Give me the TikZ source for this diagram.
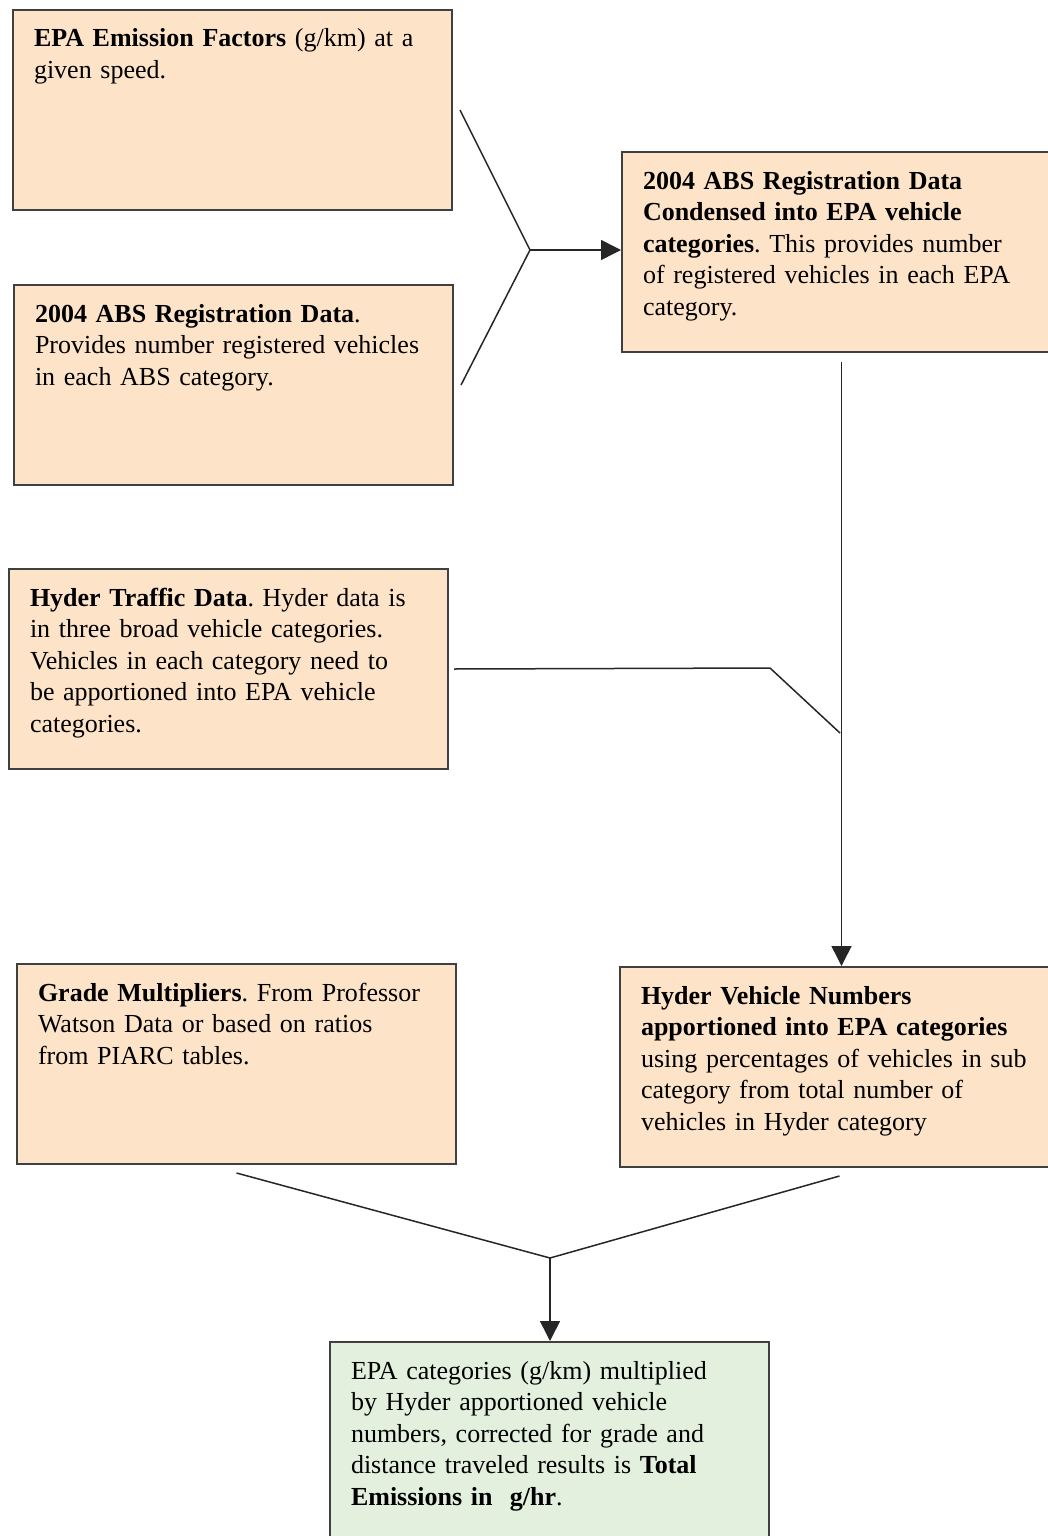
\documentclass[tikz,border=0pt]{standalone}
\usepackage{fontspec}
\setmainfont{Liberation Serif}
\usepackage{tikz}
\usetikzlibrary{arrows.meta,positioning}
\definecolor{peach}{RGB}{253,228,201}
\definecolor{palegreen}{RGB}{227,240,221}
\definecolor{boxline}{RGB}{64,64,64}
\frenchspacing

\begin{document}
\begin{tikzpicture}
	[x=0.5pt, y=-0.5pt, font=\fontsize{13}{15.8}\selectfont,
	databox/.style	= {rectangle, draw=boxline, line width=1pt, fill=peach, anchor=north west, align=left,
				inner xsep=10.5pt, inner ysep=6pt, text width=198.5pt, text height=12.5pt, text depth=75.5pt},
	resultbox/.style	= {databox, fill=palegreen},
	lines/.style	= {draw=black!85, line width=0.75pt},
	paths/.style	= {lines, -{Triangle[length=10pt, width=10pt]}}]
	
	\useasboundingbox (0, 0) rectangle (1048, 1536);
	
	\node at (12, 9)	[databox]	(epa)		{\textbf{EPA Emission Factors} (g/km) at a\\given speed.};
	\node at (13, 284)	[databox]	(abs)		{\textbf{2004 ABS Registration Data}.\\Provides number registered vehicles\\in each ABS category.};
	\node at (621, 151)	[databox]	(cond)		{\textbf{2004 ABS Registration Data}\\\textbf{Condensed into EPA vehicle}\\\textbf{categories}. This provides number\\of registered vehicles in each EPA\\category.};
	\node at (8, 568)	[databox]	(traffic)	{\textbf{Hyder Traffic Data}. Hyder data is\\in three broad vehicle categories.\\Vehicles in each category need to\\be apportioned into EPA vehicle\\categories.};
	\node at (16, 963)	[databox]	(grade)		{\textbf{Grade Multipliers}. From Professor\\Watson Data or based on ratios\\from PIARC tables.};
	\node at (619, 966)	[databox]	(hvn)		{\textbf{Hyder Vehicle Numbers}\\\textbf{apportioned into EPA categories}\\using percentages of vehicles in sub\\category from total number of\\vehicles in Hyder category};
	\node at (329, 1341)	[resultbox]	(total)		{EPA categories (g/km) multiplied\\by Hyder apportioned vehicle\\numbers, corrected for grade and\\distance traveled results is \textbf{Total}\\\textbf{Emissions in\ \ g/hr}.};
	
	\coordinate (join1)	at (530, 250);
	\coordinate (bend)	at (770, 668);
	\coordinate (merge)	at (840, 733);
	\coordinate (join2)	at (550, 1258);
	
	\draw [lines] ([xshift=3.5pt]epa.east) -- (join1) -- ([xshift=3.5pt]abs.east);
	\draw [paths, shorten <=4.5pt] (cond.south) -- (cond.south |- hvn.north);
	\draw [paths] (join1) -- (join1 -| cond.west);
	\draw [lines] ([xshift=2.5pt]traffic.east) -- (bend) -- (merge);
	
	\draw [lines] ([yshift=-4pt]grade.south) -- (join2) -- ([yshift=-4pt]hvn.south);
	\draw [paths] (join2) -- (join2 |- total.north);
\end{tikzpicture}
\end{document}
